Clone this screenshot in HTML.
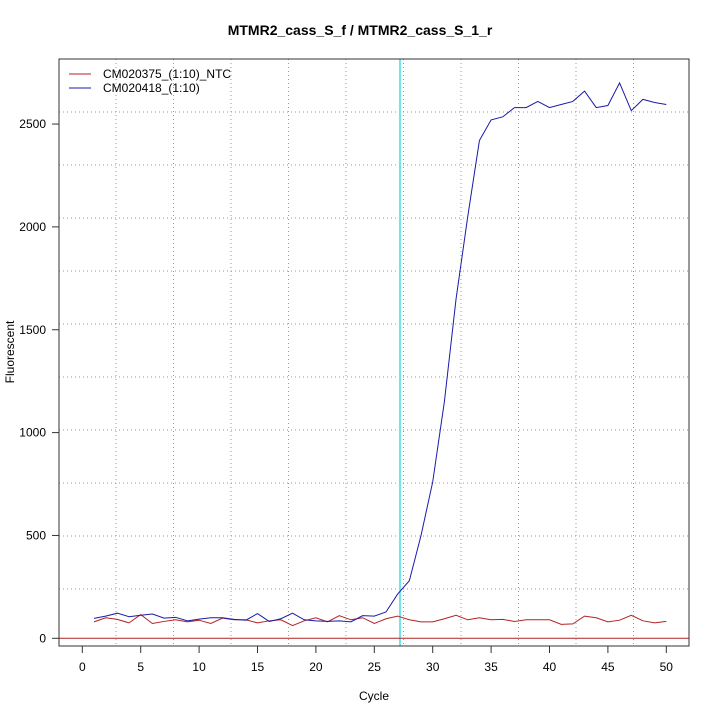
<!DOCTYPE html>
<html><head><meta charset="utf-8"><style>body{margin:0;background:#fff}svg{display:block}text{font-family:"Liberation Sans",sans-serif}</style></head>
<body>
<svg id="s" width="720" height="720" xmlns="http://www.w3.org/2000/svg">
<rect width="720" height="720" fill="#fff"/>
<g stroke="#999" stroke-dasharray="1,3" stroke-width="1" id="grid"></g>
<line x1="400" y1="59" x2="400" y2="646" stroke="#a8f0f4" stroke-width="2.2"/>
<line x1="400" y1="59" x2="400" y2="646" stroke="#40d8e4" stroke-width="1"/>
<line x1="59" y1="638.3" x2="689" y2="638.3" stroke="#b22222"/>
<polyline id="red" fill="none" stroke="#b22222" stroke-width="1"/>
<polyline id="blue" fill="none" stroke="#1a1aa8" stroke-width="1"/>
<rect x="59" y="59" width="630" height="587" fill="none" stroke="#333"/>
<g id="ax" stroke="#333"></g>
<g id="lab" font-size="12" fill="#000"></g>
<text x="360" y="35" font-size="14" font-weight="bold" text-anchor="middle">MTMR2_cass_S_f / MTMR2_cass_S_1_r</text>
<text x="374" y="700" font-size="12" text-anchor="middle">Cycle</text>
<text x="14" y="352" font-size="12" text-anchor="middle" transform="rotate(-90 14 352)">Fluorescent</text>
<line x1="69" y1="74" x2="91" y2="74" stroke="#b22222"/>
<line x1="69" y1="88" x2="91" y2="88" stroke="#1a1aa8"/>
<text x="103" y="78" font-size="12">CM020375_(1:10)_NTC</text>
<text x="103" y="92" font-size="12">CM020418_(1:10)</text>
</svg>
<script>
var X=c=>82.3+11.68*c, Y=v=>638.3-0.2057*v, ns="http://www.w3.org/2000/svg";
function el(p,t,a,txt){var e=document.createElementNS(ns,t);for(var k in a)e.setAttribute(k,a[k]);if(txt)e.textContent=txt;document.getElementById(p).appendChild(e);}
for(var i=0;i<10;i++){var x=116+57.5*i;el("grid","line",{x1:x,y1:59,x2:x,y2:646});}
for(var i=0;i<10;i++){var y=112+53*i;el("grid","line",{x1:59,y1:y,x2:689,y2:y});}
for(var c=0;c<=50;c+=5){el("ax","line",{x1:X(c),y1:646,x2:X(c),y2:653});el("lab","text",{x:X(c),y:671,"text-anchor":"middle"},""+c);}
for(var v=0;v<=2500;v+=500){el("ax","line",{x1:52,y1:Y(v),x2:59,y2:Y(v)});el("lab","text",{x:46,y:Y(v)+4,"text-anchor":"end"},""+v);}
var b=[97,108,122,105,112,118,98,102,85,93,100,100,92,88,120,82,95,122,90,85,82,85,80,110,108,128,215,280,500,760,1150,1650,2050,2420,2520,2535,2580,2580,2610,2580,2595,2610,2660,2580,2590,2700,2565,2620,2605,2595];
var r=[80,100,92,75,115,72,82,90,80,88,72,98,90,90,75,85,90,62,85,100,80,110,90,100,72,95,108,90,80,80,95,112,90,100,90,92,82,90,90,90,68,70,108,100,80,88,112,85,75,82];
document.getElementById("blue").setAttribute("points",b.map((v,i)=>X(i+1)+","+Y(v)).join(" "));
document.getElementById("red").setAttribute("points",r.map((v,i)=>X(i+1)+","+Y(v)).join(" "));
</script>
</body></html>
